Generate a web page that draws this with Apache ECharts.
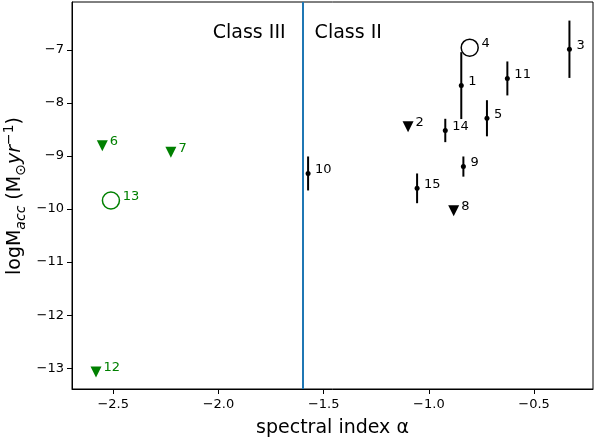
<!DOCTYPE html>
<html>
<head>
<meta charset="utf-8">
<script src="https://cdn.jsdelivr.net/npm/echarts@6/dist/echarts.min.js"></script>
<style>
html,body{margin:0;padding:0;background:#fff;}
#chart{width:596px;height:443px;}
</style>
</head>
<body>
<div id="chart"></div>
<script>
// ---- data ----
// Class II sources with error bars (black dots)
const errNames = ['1', '3', '5', '9', '10', '11', '14', '15'];
const errX     = [-0.846, -0.332, -0.724, -0.836, -1.574, -0.627, -0.922, -1.056];
const errY     = [-7.675, -6.99, -8.29, -9.20, -9.33, -7.54, -8.52, -9.61];
const errSize  = [0.63, 0.54, 0.34, 0.19, 0.32, 0.32, 0.22, 0.28];

// Class II upper limits (black down triangles)
const blackTriNames = ['2', '8'];
const blackTriX = [-1.099, -0.882];
const blackTriY = [-8.45, -10.03];

// Class II open circle
const blackCircNames = ['4'];
const blackCircX = [-0.806];
const blackCircY = [-6.96];

// Class III upper limits (green down triangles)
const greenTriNames = ['6', '7', '12'];
const greenTriX = [-2.552, -2.226, -2.582];
const greenTriY = [-8.81, -8.93, -13.07];

// Class III open circle
const greenCircNames = ['13'];
const greenCircX = [-2.511];
const greenCircY = [-9.84];

// class boundary
const boundaryX = -1.6;
const classTexts = ['Class III', 'Class II'];
const classY = -6.68;

// axes
const xMin = -2.696, xMax = -0.22;
const yMin = -13.39, yMax = -6.10;
const xTicks = [-2.5, -2.0, -1.5, -1.0, -0.5];
const yTicks = [-13, -12, -11, -10, -9, -8, -7];

// ---- chart ----
const FONT = 'DejaVu Sans';
const GREEN = '#008000';
const chart = echarts.init(document.getElementById('chart'), null, {renderer: 'canvas'});

function fmt(v, dec) {
  const s = Math.abs(v).toFixed(dec);
  return (v < 0 ? '\u2212' : '') + s;
}
function pts(xs, ys, names) {
  return xs.map((x, i) => ({name: names[i], value: [x, ys[i]]}));
}
function lbl(color, dist) {
  return {
    show: true, position: 'right', distance: dist, offset: [0, -4],
    formatter: '{b}', color: color, opacity: 1, fontSize: 13, fontFamily: FONT
  };
}

const option = {
  animation: false,
  backgroundColor: '#fff',
  grid: {left: 72, right: 3, top: 2, bottom: 52, show: true, borderColor: '#000', borderWidth: 1, backgroundColor: 'transparent'},
  xAxis: {
    type: 'value', min: xMin, max: xMax,
    splitLine: {show: false},
    axisLine: {show: true, lineStyle: {color: '#000', width: 1}},
    axisTick: {show: true, length: 5, lineStyle: {color: '#000', width: 1}, customValues: xTicks},
    axisLabel: {color: '#000', fontSize: 13, fontFamily: FONT, margin: 9, customValues: xTicks, formatter: v => fmt(v, 1)},
    name: 'spectral index \u03b1', nameLocation: 'middle', nameGap: 30,
    nameTextStyle: {color: '#000', fontSize: 19, fontFamily: FONT}
  },
  yAxis: {
    type: 'value', min: yMin, max: yMax,
    splitLine: {show: false},
    axisLine: {show: true, lineStyle: {color: '#000', width: 1}},
    axisTick: {show: true, length: 5, lineStyle: {color: '#000', width: 1}, customValues: yTicks},
    axisLabel: {color: '#000', fontSize: 13, fontFamily: FONT, margin: 8, customValues: yTicks, formatter: v => fmt(v, 0)}
  },
  graphic: [{
    type: 'text',
    x: 15, y: 196,
    rotation: Math.PI / 2,
    style: {
      text: '{m|logM}{sub|acc}{m| (M}{sub2|\u2299}{it|yr}{sup|\u22121}{m|)}',
      align: 'center', verticalAlign: 'middle',
      fill: '#000',
      rich: {
        m: {fontSize: 19, fontFamily: FONT, lineHeight: 26, verticalAlign: 'middle', fill: '#000'},
        sub: {fontSize: 14, fontFamily: FONT, fontStyle: 'italic', lineHeight: 14, verticalAlign: 'bottom', fill: '#000'},
        sub2: {fontSize: 14, fontFamily: FONT, lineHeight: 16, verticalAlign: 'bottom', fill: '#000'},
        it: {fontSize: 19, fontFamily: FONT, fontStyle: 'italic', lineHeight: 26, verticalAlign: 'middle', fill: '#000'},
        sup: {fontSize: 14, fontFamily: FONT, lineHeight: 14, verticalAlign: 'top', fill: '#000'}
      }
    }
  }],
  series: [
    {
      type: 'line', silent: true, data: [],
      markLine: {
        silent: true, symbol: 'none', label: {show: false},
        lineStyle: {color: '#1f77b4', width: 2, type: 'solid', opacity: 1},
        data: [{xAxis: boundaryX}]
      }
    },
    {
      type: 'scatter', silent: true, symbolSize: 0,
      itemStyle: {opacity: 1},
      data: [
        {name: classTexts[0], value: [boundaryX, classY], label: {position: 'left', distance: 17}},
        {name: classTexts[1], value: [boundaryX, classY], label: {position: 'right', distance: 12}}
      ],
      label: {show: true, formatter: '{b}', color: '#000', opacity: 1, fontSize: 19, fontFamily: FONT}
    },
    {
      type: 'custom', silent: true,
      encode: {x: 0, y: [1, 2]},
      data: errX.map((x, i) => [x, errY[i] - errSize[i], errY[i] + errSize[i]]),
      renderItem: function (params, api) {
        const a = api.coord([api.value(0), api.value(1)]);
        const b = api.coord([api.value(0), api.value(2)]);
        return {type: 'line', shape: {x1: a[0], y1: a[1], x2: b[0], y2: b[1]}, style: {stroke: '#000', lineWidth: 2}};
      }
    },
    {
      type: 'scatter', symbol: 'circle', symbolSize: 5,
      itemStyle: {color: '#000', opacity: 1},
      data: pts(errX, errY, errNames),
      label: lbl('#000', 4.5)
    },
    {
      type: 'scatter', symbol: 'triangle', symbolRotate: 180, symbolSize: 11,
      itemStyle: {color: '#000', opacity: 1},
      data: pts(blackTriX, blackTriY, blackTriNames),
      label: lbl('#000', 2)
    },
    {
      type: 'scatter', symbol: 'circle', symbolSize: 17,
      itemStyle: {color: 'rgba(0,0,0,0)', borderColor: '#000', borderWidth: 1.5, opacity: 1},
      data: pts(blackCircX, blackCircY, blackCircNames),
      label: lbl('#000', 2.5)
    },
    {
      type: 'scatter', symbol: 'triangle', symbolRotate: 180, symbolSize: 11,
      itemStyle: {color: GREEN, opacity: 1},
      data: pts(greenTriX, greenTriY, greenTriNames),
      label: lbl(GREEN, 2)
    },
    {
      type: 'scatter', symbol: 'circle', symbolSize: 17,
      itemStyle: {color: 'rgba(0,0,0,0)', borderColor: GREEN, borderWidth: 1.5, opacity: 1},
      data: pts(greenCircX, greenCircY, greenCircNames),
      label: lbl(GREEN, 2.5)
    }
  ]
};
chart.setOption(option);
</script>
</body>
</html>
